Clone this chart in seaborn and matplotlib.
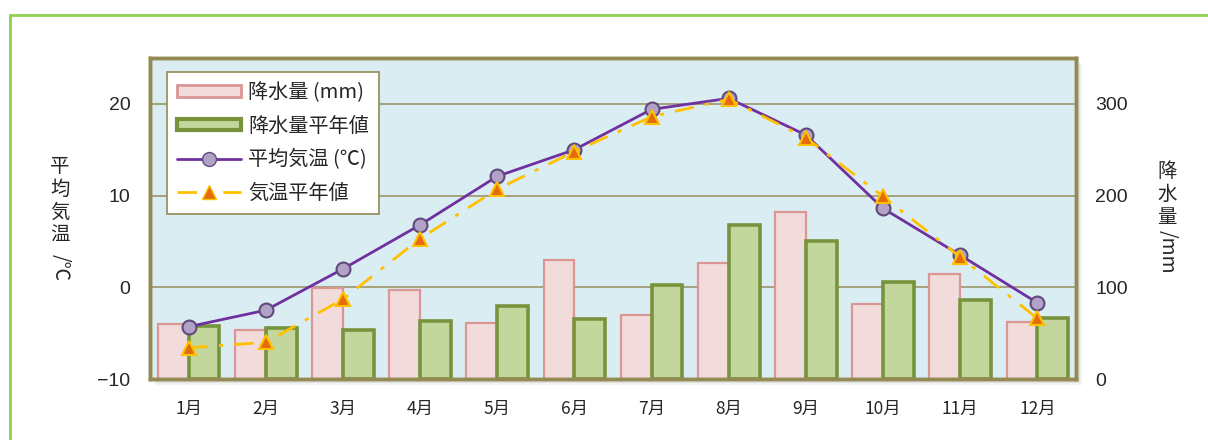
import numpy as np
import pandas as pd
import matplotlib
matplotlib.use("Agg")
import matplotlib.pyplot as plt
import seaborn as sns
from matplotlib.patches import Patch, Rectangle
from matplotlib.lines import Line2D

# datos
months = ["1月", "2月", "3月", "4月", "5月", "6月", "7月", "8月", "9月", "10月", "11月", "12月"]
rain = [60, 53, 99, 97, 61, 130, 70, 127, 182, 82, 115, 62]
rain_normal = [58, 56, 53, 63, 80, 65, 102, 168, 151, 106, 86, 67]
temp = [-4.3, -2.5, 2.0, 6.8, 12.1, 15.0, 19.4, 20.6, 16.6, 8.6, 3.5, -1.7]
temp_normal = [-6.6, -6.0, -1.3, 5.3, 10.7, 14.8, 18.6, 20.5, 16.3, 9.9, 3.3, -3.4]

series_names = ["降水量 (mm)", "降水量平年値", "平均気温 (℃)", "気温平年値"]

sns.set_style("white")
plt.rcParams["font.family"] = ["Noto Sans CJK JP", "DejaVu Sans"]
num_font = ["Liberation Sans", "DejaVu Sans"]

pink_face, pink_edge = "#f2dcdb", "#d99694"
green_face, green_edge = "#c3d69b", "#77933c"
purple, purple_face, purple_edge = "#7030a0", "#b3a2c7", "#604a7b"
orange_line, orange_face = "#ffc000", "#e46c0a"
frame = "#948a54"

fig = plt.figure(figsize=(12.08, 4.4), dpi=100)
W, H = 1208, 440

# marco verde exterior
fig.patches.append(Rectangle((10 / W, -0.2), 1.2, (H - 15) / H + 0.2, fill=False,
                             edgecolor="#92d050", lw=2, transform=fig.transFigure))

x0, y0, x1, y1 = 150, 58, 1076, 379
pos = [x0 / W, 1 - y1 / H, (x1 - x0) / W, (y1 - y0) / H]

# sombra
for k, a in [(6, 0.10), (4, 0.15), (2, 0.22)]:
    fig.patches.append(Rectangle((pos[0] + k / W, pos[1] - k / H), pos[2], pos[3],
                                 facecolor="#808080", alpha=a, lw=0,
                                 transform=fig.transFigure, zorder=-1))

ax = fig.add_axes(pos)
ax2 = ax.twinx()

df = pd.DataFrame({
    "month": months * 2,
    "mm": rain + rain_normal,
    "series": [series_names[0]] * 12 + [series_names[1]] * 12,
})
sns.barplot(data=df, x="month", y="mm", hue="series", ax=ax2, width=0.8,
            palette=[pink_face, green_face], saturation=1, legend=False)
for bar in ax2.containers[0]:
    bar.set_edgecolor(pink_edge)
    bar.set_linewidth(1.6)
for bar in ax2.containers[1]:
    bar.set_edgecolor(green_edge)
    bar.set_linewidth(2.6)

ax2.patch.set_visible(True)
ax2.set_facecolor("#daedf3")
ax2.set_ylim(0, 350)
ax2.set_yticks([0, 100, 200, 300])
ax2.yaxis.grid(True, color="#a09c74", lw=1.3)
ax2.set_axisbelow(True)
ax2.set_xlabel("")
ax2.set_ylabel("")

ax.set_zorder(ax2.get_zorder() + 1)
ax.patch.set_visible(False)

xs = np.arange(len(months))
sns.lineplot(x=xs, y=temp, ax=ax, color=purple, lw=2, marker="o", markersize=10,
             markerfacecolor=purple_face, markeredgecolor=purple_edge, markeredgewidth=1.5)
sns.lineplot(x=xs, y=temp_normal, ax=ax, color=orange_line, lw=2, ls=(0, (7, 4, 1.5, 4)),
             marker="^", markersize=10, markerfacecolor=orange_face,
             markeredgecolor=orange_line, markeredgewidth=1.5)

ax.set_ylim(-10, 25)
ax.set_yticks([-10, 0, 10, 20])
ax.set_yticklabels(["−10", "0", "10", "20"], family=num_font)
ax2.set_yticklabels(["0", "100", "200", "300"], family=num_font)
ax.set_xlim(-0.5, 11.5)
ax.set_xticks(xs)
ax.set_xticklabels(months)
ax.set_xticks(np.arange(0.5, 11, 1), minor=True)
ax.tick_params(axis="x", which="major", length=0, pad=15, labelsize=12.5)
ax.tick_params(axis="x", which="minor", direction="in", length=5, color="#8c8c70", width=1)
ax.tick_params(axis="y", length=0, pad=14, labelsize=14)
ax2.tick_params(axis="y", length=0, pad=14, labelsize=14)
ax2.tick_params(axis="x", length=0)

for a in (ax, ax2):
    for s in a.spines.values():
        s.set_color(frame)
        s.set_linewidth(2.5)

handles = [
    Patch(facecolor=pink_face, edgecolor=pink_edge, lw=2),
    Patch(facecolor=green_face, edgecolor=green_edge, lw=3),
    Line2D([], [], color=purple, lw=2, marker="o", markersize=10,
           markerfacecolor=purple_face, markeredgecolor=purple_edge),
    Line2D([], [], color=orange_line, lw=2, ls=(0, (7, 4, 1.5, 4)), marker="^", markersize=10,
           markerfacecolor=orange_face, markeredgecolor=orange_line),
]
leg = ax.legend(handles, series_names, loc="upper left", bbox_to_anchor=(0.018, 0.956),
                borderaxespad=0, fontsize=14.5, frameon=True, fancybox=False,
                handlelength=3.2, handleheight=0.5, labelspacing=0.62, borderpad=0.5,
                handletextpad=0.35)
leg.get_frame().set_edgecolor(frame)
leg.get_frame().set_linewidth(1.2)
leg.get_frame().set_facecolor("white")
leg.get_frame().set_alpha(1)

# etiquetas de ejes verticales
fig.text(60 / W, 1 - 156 / H, "平\n均\n気\n温", ha="center", va="top", fontsize=14,
         linespacing=1.13)
fig.text(60 / W, 1 - 268 / H, "/℃", ha="center", va="center", fontsize=14, rotation=-90)
fig.text(1167 / W, 1 - 161 / H, "降\n水\n量", ha="center", va="top", fontsize=14,
         linespacing=1.13)
fig.text(1167 / W, 1 - 252 / H, "/mm", ha="center", va="center", fontsize=14, rotation=-90)

plt.savefig("out.png", dpi=100)
